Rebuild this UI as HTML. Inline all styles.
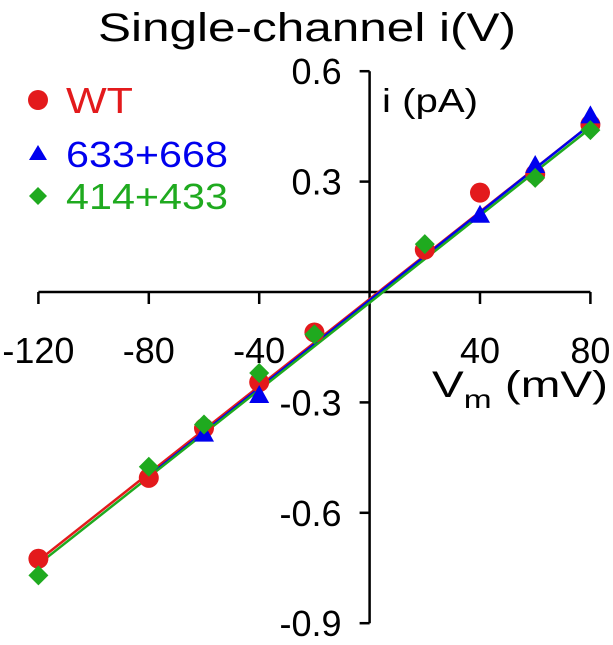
<!DOCTYPE html>
<html><head><meta charset="utf-8"><style>
body{margin:0;background:#fff;}
svg text{font-family:"Liberation Sans",Arial,sans-serif;}
</style></head><body>
<svg id="chart" width="613" height="640" xmlns="http://www.w3.org/2000/svg">
<text x="307" y="41" font-size="40" text-anchor="middle" textLength="418" lengthAdjust="spacingAndGlyphs">Single-channel i(V)</text>
<g id="axes"></g>
<g id="marks"></g>
<text x="382" y="112" font-size="33" textLength="96" lengthAdjust="spacingAndGlyphs">i (pA)</text>
<text x="432" y="397" font-size="37" textLength="176" lengthAdjust="spacingAndGlyphs">V<tspan font-size="26" dy="11">m</tspan><tspan dy="-11"> (mV)</tspan></text>
<g>
<circle cx="38" cy="100" r="10" fill="#e31a1c"/>
<text x="66" y="113" font-size="36" fill="#e31a1c" textLength="67" lengthAdjust="spacingAndGlyphs">WT</text>
<polygon points="38,145 47,160 29,160" fill="#0000ee"/>
<text x="66" y="167" font-size="36" fill="#0000ee" textLength="162" lengthAdjust="spacingAndGlyphs">633+668</text>
<polygon points="38,187 47,196 38,205 29,196" fill="#1faa1f"/>
<text x="66" y="209" font-size="36" fill="#1faa1f" textLength="162" lengthAdjust="spacingAndGlyphs">414+433</text>
</g>
</svg>
<script>
const xTicks=[-120,-80,-40,40,80];
const yTicks=[0.6,0.3,-0.3,-0.6,-0.9];
const yTickLabels=["0.6","0.3","-0.3","-0.6","-0.9"];
const wtV=[-120,-80,-60,-40,-20,20,40,60,80];
const wtI=[-0.725,-0.505,-0.37,-0.245,-0.11,0.115,0.27,0.32,0.455];
const mutAV=[-60,-40,40,60,80];
const mutAI=[-0.385,-0.28,0.21,0.345,0.48];
const mutBV=[-120,-80,-60,-40,-20,20,60,80];
const mutBI=[-0.77,-0.475,-0.36,-0.22,-0.115,0.13,0.31,0.44];
const fitWT=[[-120,-0.73],[80,0.455]];
const fitA=[[-80,-0.5],[80,0.455]];
const fitB=[[-120,-0.74],[80,0.445]];
const NS="http://www.w3.org/2000/svg";
const X=v=>369.6+v*110.4/40;
const Y=i=>292-i*110.4/0.3;
function mk(t,a,p){const e=document.createElementNS(NS,t);for(const k in a)e.setAttribute(k,a[k]);p.appendChild(e);return e;}
const ax=document.getElementById('axes'),mk2=document.getElementById('marks');
let e=mk('line',{x1:X(-120),x2:X(80),y1:Y(0),y2:Y(0),stroke:'#000','stroke-width':2.5},ax);


e=mk('line',{x1:X(0),x2:X(0),y1:Y(0.6),y2:Y(-0.9),stroke:'#000','stroke-width':2.5},ax);


xTicks.forEach(v=>{
 let t=mk('line',{x1:X(v),x2:X(v),y1:Y(0),y2:Y(0)+12,stroke:'#000','stroke-width':2.5},ax);
 
 
 let l=mk('text',{x:X(v),y:Y(0)+71,'font-size':36,'text-anchor':'middle'},ax);l.textContent=v;
 
 
});
yTicks.forEach((v,k)=>{
 let t=mk('line',{x1:X(0)-10,x2:X(0),y1:Y(v),y2:Y(v),stroke:'#000','stroke-width':2.5},ax);
 
 
 let l=mk('text',{x:X(0)-28,y:Y(v)+13,'font-size':36,'text-anchor':'end'},ax);l.textContent=yTickLabels[k];
 
 
});
function fit(f,c,n){let l=mk('line',{x1:X(f[0][0]),y1:Y(f[0][1]),x2:X(f[1][0]),y2:Y(f[1][1]),stroke:c,'stroke-width':2.5},mk2);
 
 }
fit(fitWT,'#e31a1c','fit-wt');fit(fitA,'#0000ee','fit-633-668');fit(fitB,'#1faa1f','fit-414-433');
wtV.forEach((v,k)=>{let c=mk('circle',{cx:X(v),cy:Y(wtI[k]),r:10,fill:'#e31a1c'},mk2);
 
 });
mutAV.forEach((v,k)=>{const x=X(v),y=Y(mutAI[k]);let p=mk('polygon',{points:`${x},${y-10} ${x+10},${y+8} ${x-10},${y+8}`,fill:'#0000ee'},mk2);
 
 });
mutBV.forEach((v,k)=>{const x=X(v),y=Y(mutBI[k]);let p=mk('polygon',{points:`${x},${y-10} ${x+10},${y} ${x},${y+10} ${x-10},${y}`,fill:'#1faa1f'},mk2);
 
 });
</script>
</body></html>
